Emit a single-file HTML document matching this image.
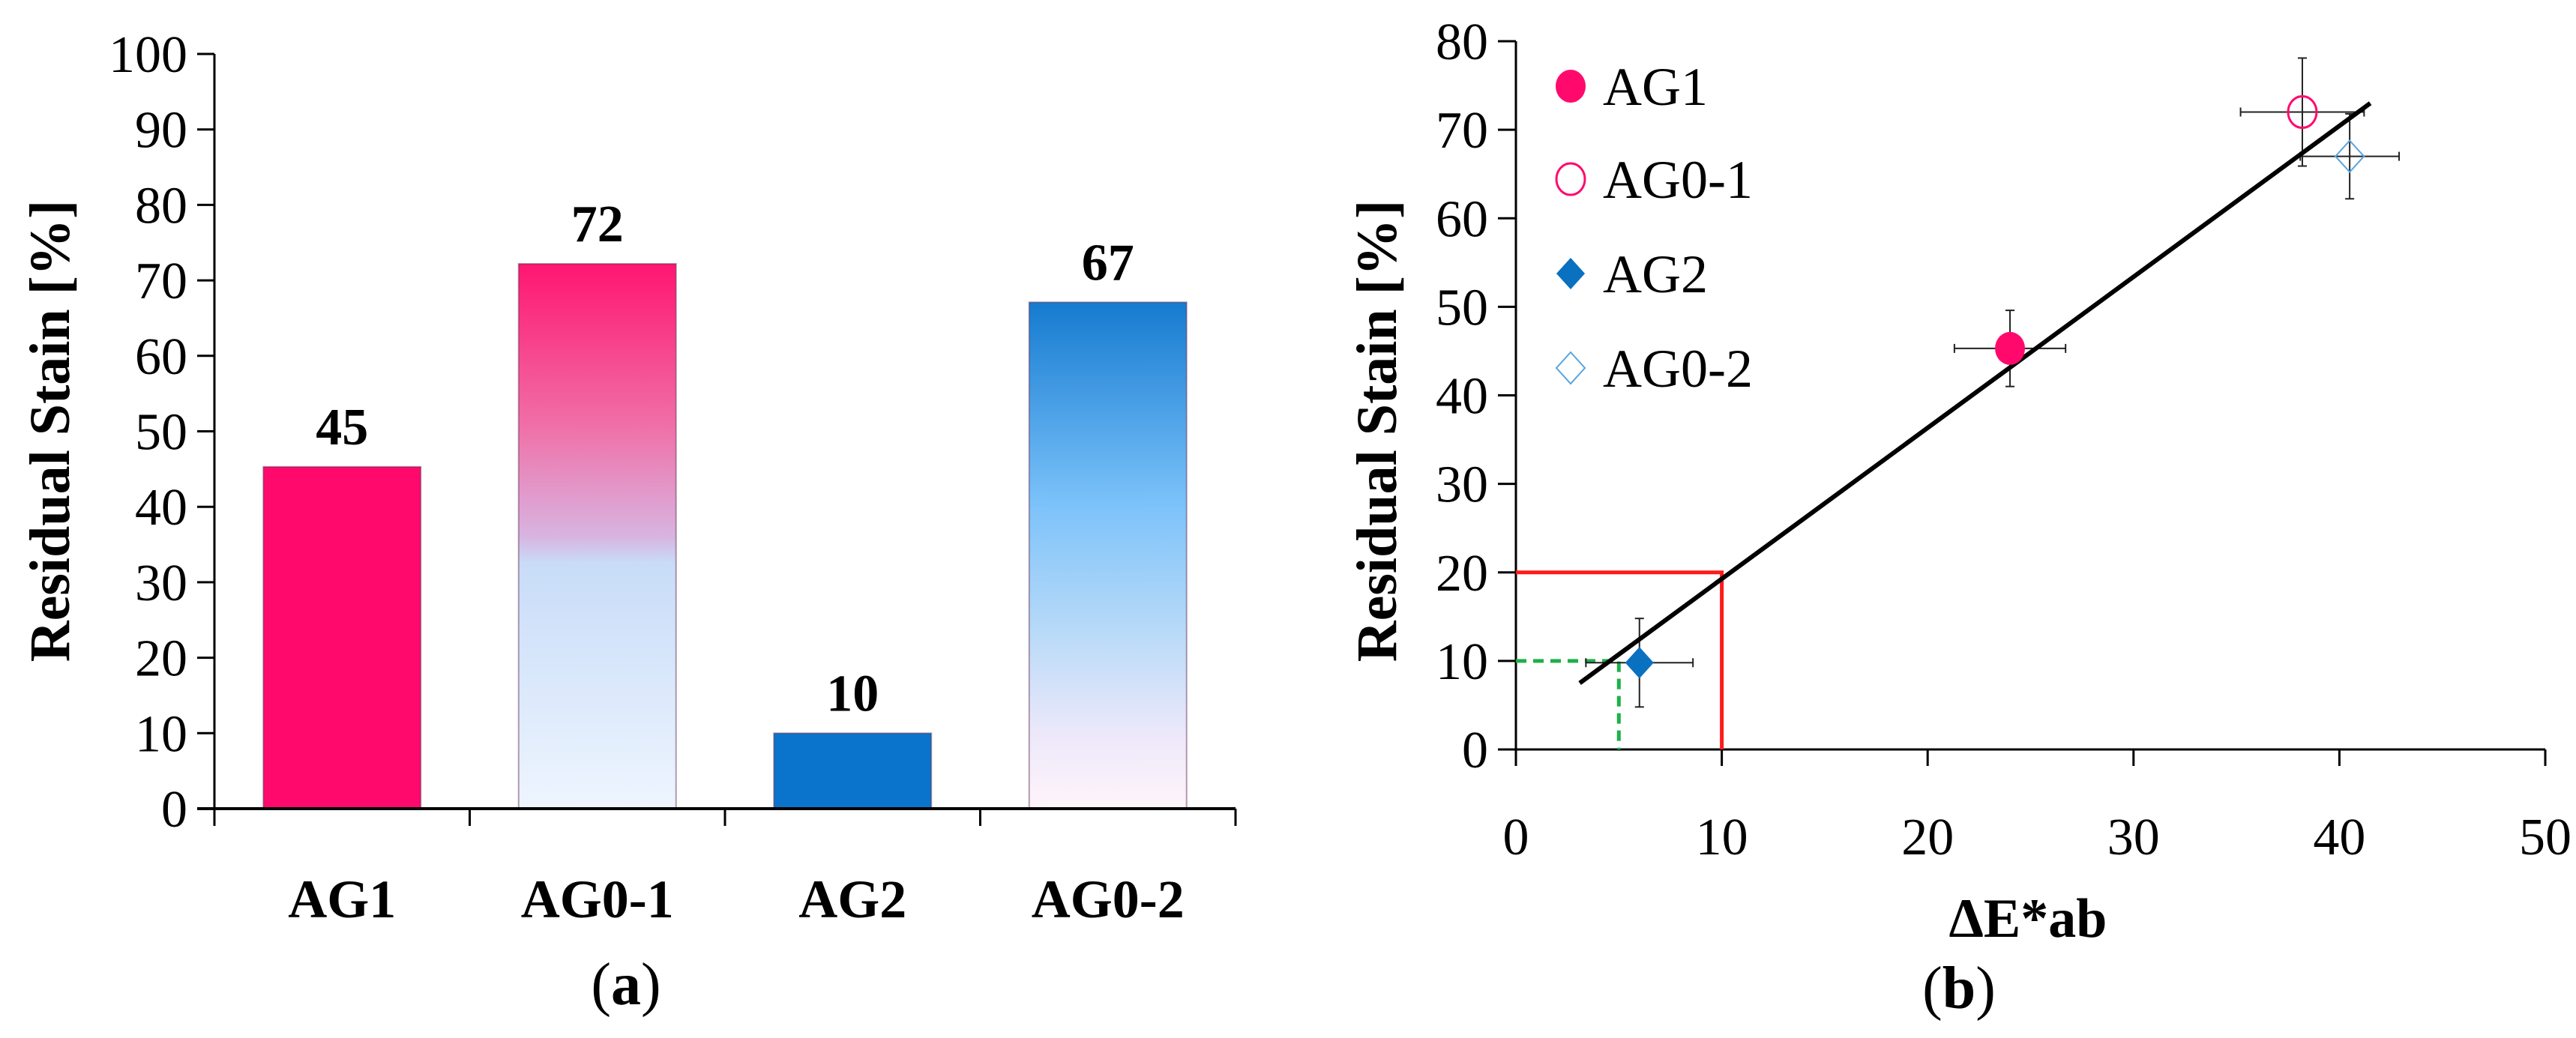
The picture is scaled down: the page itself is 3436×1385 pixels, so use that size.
<!DOCTYPE html>
<html><head><meta charset="utf-8"><style>
html,body{margin:0;padding:0;background:#fff;}
svg{display:block;font-family:"Liberation Serif",serif;}
</style></head><body>
<svg id="chart" width="3436" height="1385" viewBox="0 0 3436 1385" xmlns="http://www.w3.org/2000/svg">
<defs>
<linearGradient id="gA01" x1="0" y1="0" x2="0" y2="1">
<stop offset="0" stop-color="#ff1670"/><stop offset="0.3" stop-color="#f070a8"/><stop offset="0.5" stop-color="#d8b4e0"/><stop offset="0.55" stop-color="#c8dcf8"/><stop offset="1" stop-color="#eef5fe"/>
</linearGradient>
<linearGradient id="gA02" x1="0" y1="0" x2="0" y2="1">
<stop offset="0" stop-color="#157bd0"/><stop offset="0.4" stop-color="#7cc2fa"/><stop offset="0.65" stop-color="#b8daf8"/><stop offset="0.85" stop-color="#ece8fa"/><stop offset="1" stop-color="#fff4fb"/>
</linearGradient>
</defs>
<g id="panelA"></g>
<g id="panelB"></g>
</svg>
<script>
const barCats = ["AG1","AG0-1","AG2","AG0-2"];
const barVals = [45.3,72.2,10,67.1];
const barLabels = ["45","72","10","67"];
const barFills = ["#ff0a6c","url(#gA01)","#0a74cc","url(#gA02)"];
const aTicks = [0,10,20,30,40,50,60,70,80,90,100];

const scNames = ["AG1","AG0-1","AG2","AG0-2"];
const scX = [24,38.2,6,40.5];
const scY = [45.3,72,9.8,67];
const scXerr = [2.7,3,2.6,2.4];
const scYerr = [4.3,6.1,5,4.8];
const trendX = [3.1,41.5];
const trendY = [7.5,73];
const redX = [0,10,10];
const redY = [20,20,0];
const greenX = [0,5,5];
const greenY = [10,10,0];
const bxTicks = [0,10,20,30,40,50];
const byTicks = [0,10,20,30,40,50,60,70,80];

const NS="http://www.w3.org/2000/svg";
function mk(parent,tag,attrs,text){const e=document.createElementNS(NS,tag);for(const k in attrs)e.setAttribute(k,attrs[k]);if(text!==undefined)e.textContent=text;parent.appendChild(e);return e;}

// Panel A
const A=document.getElementById('panelA');
const ax0=286, ax1=1648, ay0=1079, ay100=72;
const ay=v=>ay0-(ay0-ay100)*v/100;
const cw=(ax1-ax0)/barCats.length;
const bw=210;
aTicks.forEach(t=>{
  const l=mk(A,'line',{x1:263,x2:ax0,y1:ay(t),y2:ay(t),stroke:'#000','stroke-width':3});
  
  
  const tx=mk(A,'text',{x:250,y:ay(t)+24,'text-anchor':'end','font-size':70},String(t));
  
  
});
for(let i=0;i<=barCats.length;i++){
  const x=ax0+cw*i;
  const l=mk(A,'line',{x1:x,x2:x,y1:ay0,y2:1102,stroke:'#000','stroke-width':3});
  
  
}
barCats.forEach((c,i)=>{
  const cx=ax0+cw*(i+0.5);
  const r=mk(A,'rect',{x:cx-bw/2,y:ay(barVals[i]),width:bw,height:ay0-ay(barVals[i]),fill:barFills[i],stroke:'rgba(90,40,80,0.45)','stroke-width':2});
  
  
  const v=mk(A,'text',{x:cx,y:ay(barVals[i])-30,'text-anchor':'middle','font-size':70,'font-weight':'bold'},barLabels[i]);
  
  
  const t=mk(A,'text',{x:cx,y:1224,'text-anchor':'middle','font-size':72,'font-weight':'bold'},c);
  
  
});
mk(A,'line',{x1:ax0,x2:ax0,y1:ay100,y2:1102,stroke:'#000','stroke-width':3,});
mk(A,'line',{x1:263,x2:ax1,y1:ay0,y2:ay0,stroke:'#000','stroke-width':4,});
mk(A,'text',{x:0,y:0,transform:'translate(92,575) rotate(-90)','text-anchor':'middle','font-size':76,'font-weight':'bold',},'Residual Stain [%]');
mk(A,'text',{x:835,y:1340,'text-anchor':'middle','font-size':80,},'(a)').innerHTML='(<tspan font-weight="bold">a</tspan>)';

// Panel B
const B=document.getElementById('panelB');
const bx0=2022, bx50=3395, by0=1000, by80=55;
const sx=v=>bx0+(bx50-bx0)*v/50;
const sy=v=>by0-(by0-by80)*v/80;
byTicks.forEach(t=>{
  const l=mk(B,'line',{x1:1998,x2:bx0,y1:sy(t),y2:sy(t),stroke:'#000','stroke-width':3});
  
  
  const tx=mk(B,'text',{x:1985,y:sy(t)+24,'text-anchor':'end','font-size':70},String(t));
  
  
});
bxTicks.forEach(t=>{
  const l=mk(B,'line',{x1:sx(t),x2:sx(t),y1:by0,y2:by0+22,stroke:'#000','stroke-width':3});
  
  
  const tx=mk(B,'text',{x:sx(t),y:1140,'text-anchor':'middle','font-size':70},String(t));
  
  
});
mk(B,'line',{x1:bx0,x2:bx0,y1:by80,y2:by0+22,stroke:'#000','stroke-width':3,});
mk(B,'line',{x1:1998,x2:bx50,y1:by0,y2:by0,stroke:'#000','stroke-width':3,});
mk(B,'polyline',{points:redX.map((x,i)=>sx(x)+','+sy(redY[i])).join(' '),fill:'none',stroke:'#ff1a1a','stroke-width':5,});
mk(B,'polyline',{points:greenX.map((x,i)=>sx(x)+','+sy(greenY[i])).join(' '),fill:'none',stroke:'#1db04a','stroke-width':5,'stroke-dasharray':'14 9',});
scNames.forEach((n,i)=>{
  const g=mk(B,'g',{stroke:'#222','stroke-width':2});
  
  
  const x=sx(scX[i]),y=sy(scY[i]);
  const xl=sx(scX[i]-scXerr[i]),xr=sx(scX[i]+scXerr[i]),yt=sy(scY[i]+scYerr[i]),yb=sy(scY[i]-scYerr[i]);
  mk(g,'line',{x1:xl,x2:xr,y1:y,y2:y});
  mk(g,'line',{x1:xl,x2:xl,y1:y-6,y2:y+6});
  mk(g,'line',{x1:xr,x2:xr,y1:y-6,y2:y+6});
  mk(g,'line',{x1:x,x2:x,y1:yt,y2:yb});
  mk(g,'line',{x1:x-6,x2:x+6,y1:yt,y2:yt});
  mk(g,'line',{x1:x-6,x2:x+6,y1:yb,y2:yb});
});
function marker(parent,i,x,y){
  let e;
  if(i===0) e=mk(parent,'ellipse',{cx:x,cy:y,rx:20,ry:22,fill:'#ff0a6c'});
  else if(i===1) e=mk(parent,'ellipse',{cx:x,cy:y,rx:19,ry:21,fill:'none',stroke:'#ff0a6c','stroke-width':3});
  else if(i===2) e=mk(parent,'polygon',{points:`${x},${y-21} ${x+19},${y} ${x},${y+21} ${x-19},${y}`,fill:'#0a70c0'});
  else e=mk(parent,'polygon',{points:`${x},${y-21} ${x+19},${y} ${x},${y+21} ${x-19},${y}`,fill:'none',stroke:'#5aa4dc','stroke-width':2});
  return e;
}
mk(B,'line',{x1:sx(trendX[0]),y1:sy(trendY[0]),x2:sx(trendX[1]),y2:sy(trendY[1]),stroke:'#000','stroke-width':6,});
scNames.forEach((n,i)=>{
  const m=marker(B,i,sx(scX[i]),sy(scY[i]));
  
  
});
const legY=[115,239,365,491];
scNames.forEach((n,i)=>{
  const g=mk(B,'g',{});
  
  
  marker(g,i,2095,legY[i]);
  mk(g,'text',{x:2138,y:legY[i]+25,'font-size':72},n);
});
mk(B,'text',{x:0,y:0,transform:'translate(1862,575) rotate(-90)','text-anchor':'middle','font-size':76,'font-weight':'bold',},'Residual Stain [%]');
mk(B,'text',{x:2705,y:1250,'text-anchor':'middle','font-size':74,'font-weight':'bold',},'ΔE*ab');
mk(B,'text',{x:2613,y:1345,'text-anchor':'middle','font-size':80,},'(b)').innerHTML='(<tspan font-weight="bold">b</tspan>)';
</script>
</body></html>
